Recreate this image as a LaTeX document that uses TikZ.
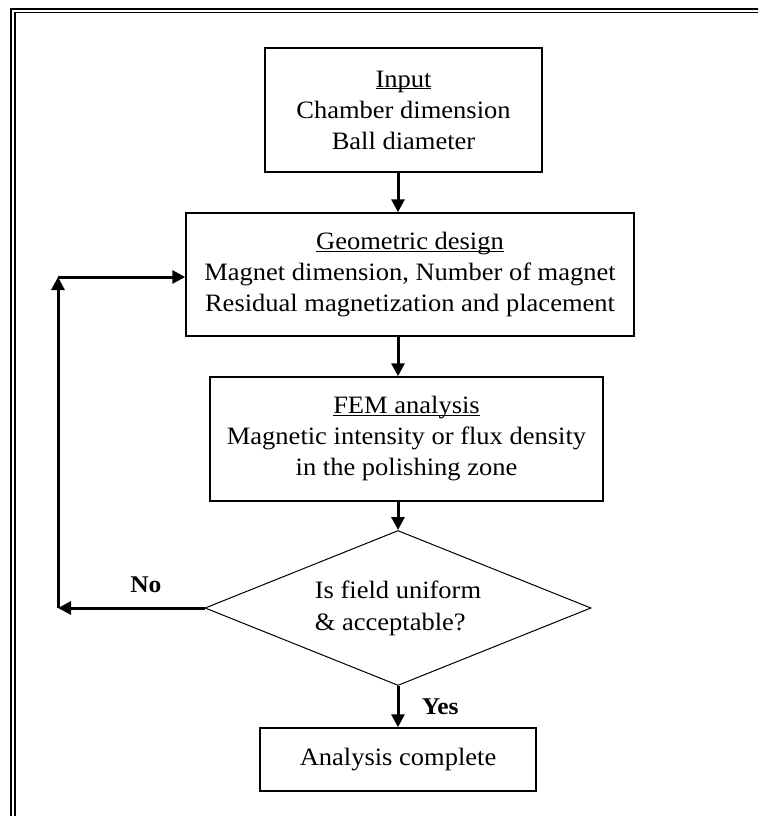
\documentclass[tikz,border=0pt]{standalone}
\usepackage{fontspec}
\setmainfont{Liberation Serif}[FakeStretch=1.06]
\usetikzlibrary{shapes.geometric,arrows.meta}
\newcommand{\headline}[1]{\underline{\raisebox{0pt}[\height][0pt]{#1}}}

\begin{document}
\begin{tikzpicture}[x=1pt,y=-1pt,>={Triangle[width=13pt,length=13pt]},
        box/.style={rectangle,draw,line width=1.5pt,inner sep=0pt,
                    align=center,font=\fontsize{25}{31}\selectfont},
        test/.style={diamond,draw,line width=1pt,inner sep=0pt,aspect=2.5,
                    minimum width=386pt,minimum height=155pt,
                    align=left,font=\fontsize{25}{32}\selectfont},
        flow/.style={->,line width=3pt},
        answer/.style={font=\fontsize{24}{28}\selectfont\bfseries}]
      \useasboundingbox (0,0) rectangle (758,816);
      %% ── Double frame (runs off right and bottom) ─────────
      \begin{scope}
        \clip (0,0) rectangle (758,816);
        \draw[line width=1.5pt] (11,9) rectangle (790,850);
        \draw[line width=1.5pt] (15,12.5) rectangle (790,850);
      \end{scope}
      %% ── Process boxes (centre column) ────────────────────
      \node[box,minimum width=277pt,minimum height=124pt](inp) at(403.5,110)
            {\headline{Input}\\Chamber dimension\\Ball diameter};
      \node[box,minimum width=448pt,minimum height=123pt](geo) at(410,274.5)
            {\headline{Geometric design}\\Magnet dimension, Number of magnet\\Residual magnetization and placement};
      \node[box,minimum width=393pt,minimum height=124pt](fem) at(406.5,439)
            {\headline{FEM analysis}\\Magnetic intensity or flux density\\in the polishing zone};
      \node[test](chk) at(398,608){Is field uniform\\\& acceptable?};
      \node[box,minimum width=276pt,minimum height=63pt](done) at(398,759.5)
            {Analysis complete};
      %% ── Loop-back corners ────────────────────────────────
      \coordinate (lb) at(58,608);
      \coordinate (lt) at(58,277);
      %% ── Arrows down the column ───────────────────────────
      \draw[flow] (inp.south -| chk.north)--(geo.north -| chk.north);
      \draw[flow] (geo.south -| chk.north)--(fem.north -| chk.north);
      \draw[flow] (fem.south -| chk.north)--(chk.north);
      \draw[flow] (chk.south)--(done.north -| chk.south)
            node[midway,right=19pt,answer]{Yes};
      %% ── Arrows: No branch back to geometric design ───────
      \draw[flow] (chk.west)--(lb)
            node[pos=0.4,above=10pt,answer]{No};
      \draw[flow] (lb)--(lt);
      \draw[flow] (lt)--(geo.west |- lt);
    \end{tikzpicture}
\end{document}
